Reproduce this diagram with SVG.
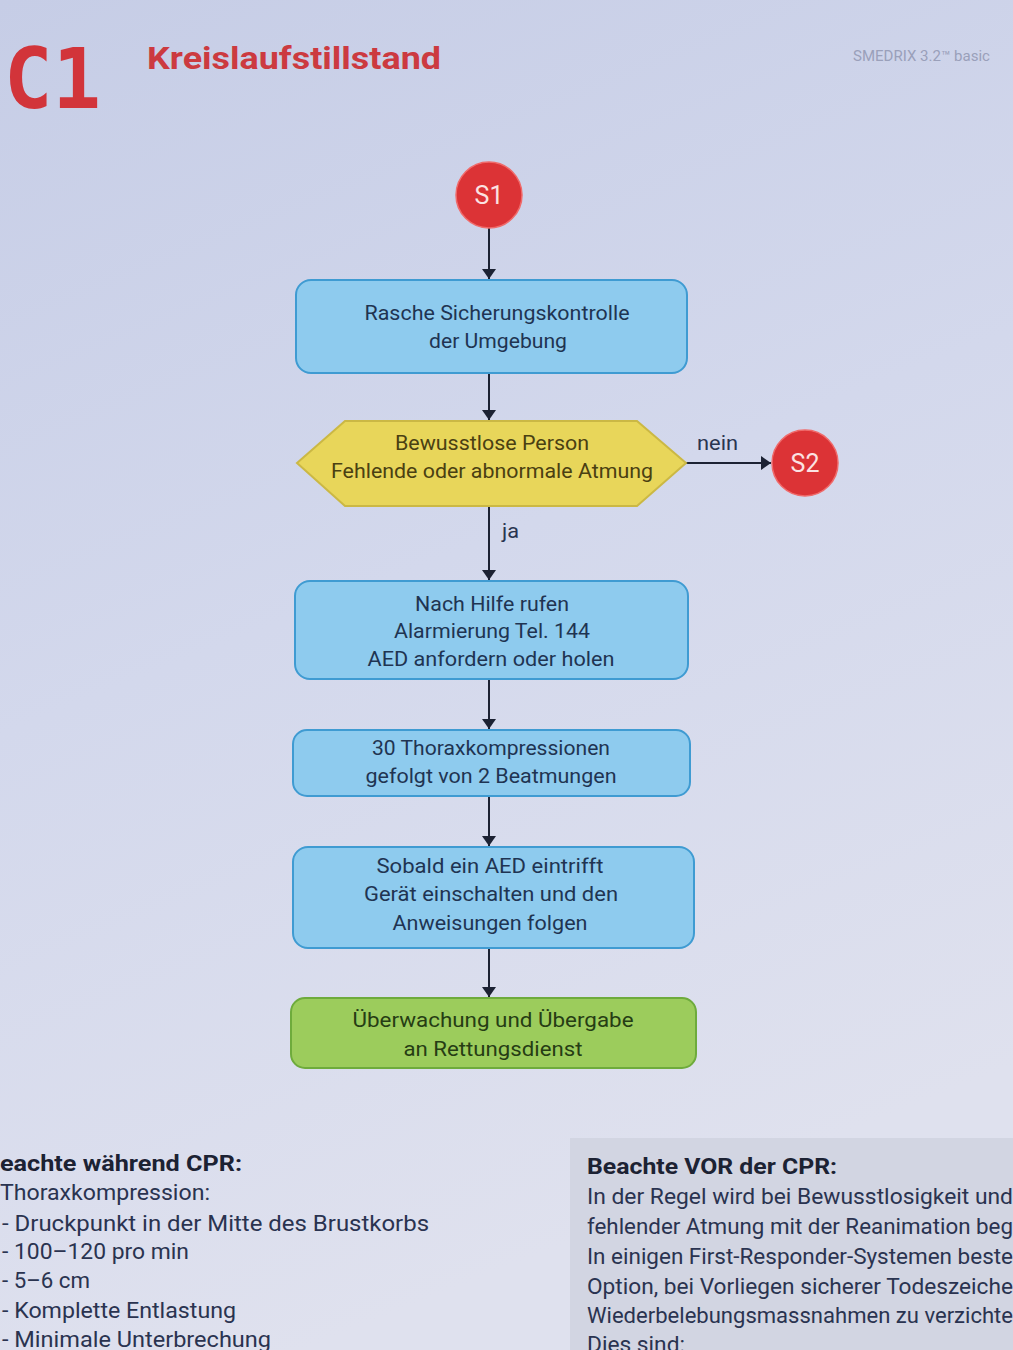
<svg xmlns="http://www.w3.org/2000/svg" width="1013" height="1350" viewBox="0 0 1013 1350">
<defs>
<linearGradient id="bg" x1="0" y1="0" x2="0.3" y2="1">
<stop offset="0" stop-color="#c6cde6"/>
<stop offset="0.5" stop-color="#d3d8ec"/>
<stop offset="1" stop-color="#dfe1ee"/>
</linearGradient>
<marker id="ah" viewBox="0 0 10 14" refX="10" refY="7" markerWidth="10" markerHeight="14" markerUnits="userSpaceOnUse" orient="auto">
<path d="M0,0 L10,7 L0,14 z" fill="#1c2233"/>
</marker>
<style>
.t{font-family:Roboto,"Liberation Sans",sans-serif;font-size:21px;text-anchor:middle;fill:#1f3452}
.hx{fill:#4a4012}
.gr{fill:#263d14}
.box{fill:#8ecbee;stroke:#3f9bd2;stroke-width:2}
.hex{fill:#e8d65a;stroke:#cbb844;stroke-width:2}
.grn{fill:#9ccc5c;stroke:#6eab3c;stroke-width:2}
.red{fill:#dc3336;stroke:#f06a6a;stroke-width:1.5}
.ct{font-family:Roboto,"Liberation Sans",sans-serif;font-size:25px;text-anchor:middle;fill:#fbe2e2}
.con{stroke:#1c2233;stroke-width:2;fill:none;marker-end:url(#ah)}
.lab{font-family:Roboto,"Liberation Sans",sans-serif;font-size:20px;fill:#2a3550}
.bt{font-family:Roboto,"Liberation Sans",sans-serif;font-size:22px;fill:#2a3350}
.bb{font-family:Roboto,"Liberation Sans",sans-serif;font-size:22px;font-weight:bold;fill:#1c2233}
</style>
</defs>
<rect x="0" y="0" width="1013" height="1350" fill="url(#bg)"/>

<g id="header">
<text x="4" y="108" font-family="'DejaVu Sans Mono',monospace" font-weight="bold" font-size="84" fill="#d2343a" textLength="97" lengthAdjust="spacingAndGlyphs">C1</text>
<text x="147" y="69" font-family="Roboto,'Liberation Sans',sans-serif" font-weight="bold" font-size="31" fill="#cc3a40" textLength="294" lengthAdjust="spacingAndGlyphs">Kreislaufstillstand</text>
<text x="853" y="61" font-family="Roboto,'Liberation Sans',sans-serif" font-size="14" fill="#9aa0ba" textLength="137" lengthAdjust="spacingAndGlyphs">SMEDRIX 3.2™ basic</text>
</g>

<g id="connectors">
<line class="con" x1="489" y1="228" x2="489" y2="279"/>
<line class="con" x1="489" y1="374" x2="489" y2="420"/>
<line class="con" x1="686" y1="463" x2="771" y2="463"/>
<line class="con" x1="489" y1="507" x2="489" y2="580"/>
<line class="con" x1="489" y1="680" x2="489" y2="729"/>
<line class="con" x1="489" y1="797" x2="489" y2="846"/>
<line class="con" x1="489" y1="949" x2="489" y2="997"/>
<text class="lab" x="697" y="450" textLength="41" lengthAdjust="spacingAndGlyphs">nein</text>
<text class="lab" x="502" y="538" textLength="17" lengthAdjust="spacingAndGlyphs">ja</text>
</g>

<g id="s1">
<circle class="red" cx="489" cy="195" r="33"/>
<text class="ct" x="489" y="204">S1</text>
</g>

<g id="n1">
<rect class="box" x="296" y="280" width="391" height="93" rx="15"/>
<text class="t" x="497" y="320" textLength="265" lengthAdjust="spacingAndGlyphs">Rasche Sicherungskontrolle</text>
<text class="t" x="498" y="348" textLength="138" lengthAdjust="spacingAndGlyphs">der Umgebung</text>
</g>

<g id="d1">
<polygon class="hex" points="297,463 345,421 637,421 686,463 637,506 345,506"/>
<text class="t hx" x="492" y="450" textLength="194" lengthAdjust="spacingAndGlyphs">Bewusstlose Person</text>
<text class="t hx" x="492" y="478" textLength="322" lengthAdjust="spacingAndGlyphs">Fehlende oder abnormale Atmung</text>
</g>

<g id="s2">
<circle class="red" cx="805" cy="463" r="33"/>
<text class="ct" x="805" y="472">S2</text>
</g>

<g id="n2">
<rect class="box" x="295" y="581" width="393" height="98" rx="15"/>
<text class="t" x="492" y="611" textLength="154" lengthAdjust="spacingAndGlyphs">Nach Hilfe rufen</text>
<text class="t" x="492" y="638" textLength="196" lengthAdjust="spacingAndGlyphs">Alarmierung Tel. 144</text>
<text class="t" x="491" y="666" textLength="247" lengthAdjust="spacingAndGlyphs">AED anfordern oder holen</text>
</g>

<g id="n3">
<rect class="box" x="293" y="730" width="397" height="66" rx="14"/>
<text class="t" x="491" y="755" textLength="238" lengthAdjust="spacingAndGlyphs">30 Thoraxkompressionen</text>
<text class="t" x="491" y="783" textLength="251" lengthAdjust="spacingAndGlyphs">gefolgt von 2 Beatmungen</text>
</g>

<g id="n4">
<rect class="box" x="293" y="847" width="401" height="101" rx="15"/>
<text class="t" x="490" y="873" textLength="227" lengthAdjust="spacingAndGlyphs">Sobald ein AED eintrifft</text>
<text class="t" x="491" y="901" textLength="254" lengthAdjust="spacingAndGlyphs">Gerät einschalten und den</text>
<text class="t" x="490" y="930" textLength="195" lengthAdjust="spacingAndGlyphs">Anweisungen folgen</text>
</g>

<g id="n5">
<rect class="grn" x="291" y="998" width="405" height="70" rx="14"/>
<text class="t gr" x="493" y="1027" textLength="281" lengthAdjust="spacingAndGlyphs">Überwachung und Übergabe</text>
<text class="t gr" x="493" y="1056" textLength="179" lengthAdjust="spacingAndGlyphs">an Rettungsdienst</text>
</g>

<g id="notes-left">
<text class="bb" x="0" y="1171" textLength="242" lengthAdjust="spacingAndGlyphs">eachte während CPR:</text>
<text class="bt" x="0" y="1200" textLength="210" lengthAdjust="spacingAndGlyphs">Thoraxkompression:</text>
<text class="bt" x="2" y="1231" textLength="427" lengthAdjust="spacingAndGlyphs">- Druckpunkt in der Mitte des Brustkorbs</text>
<text class="bt" x="2" y="1259" textLength="187" lengthAdjust="spacingAndGlyphs">- 100–120 pro min</text>
<text class="bt" x="2" y="1288" textLength="88" lengthAdjust="spacingAndGlyphs">- 5–6 cm</text>
<text class="bt" x="2" y="1318" textLength="234" lengthAdjust="spacingAndGlyphs">- Komplette Entlastung</text>
<text class="bt" x="2" y="1347" textLength="269" lengthAdjust="spacingAndGlyphs">- Minimale Unterbrechung</text>
</g>

<g id="notes-right">
<rect x="570" y="1138" width="443" height="212" fill="#d2d5e2"/>
<text class="bb" x="587" y="1174" textLength="250" lengthAdjust="spacingAndGlyphs">Beachte VOR der CPR:</text>
<text class="bt" x="587" y="1204" textLength="426" lengthAdjust="spacingAndGlyphs">In der Regel wird bei Bewusstlosigkeit und</text>
<text class="bt" x="587" y="1234" textLength="426" lengthAdjust="spacingAndGlyphs">fehlender Atmung mit der Reanimation beg</text>
<text class="bt" x="587" y="1264" textLength="426" lengthAdjust="spacingAndGlyphs">In einigen First-Responder-Systemen beste</text>
<text class="bt" x="587" y="1294" textLength="426" lengthAdjust="spacingAndGlyphs">Option, bei Vorliegen sicherer Todeszeiche</text>
<text class="bt" x="587" y="1323" textLength="426" lengthAdjust="spacingAndGlyphs">Wiederbelebungsmassnahmen zu verzichte</text>
<text class="bt" x="587" y="1352" textLength="98" lengthAdjust="spacingAndGlyphs">Dies sind:</text>
</g>
</svg>
